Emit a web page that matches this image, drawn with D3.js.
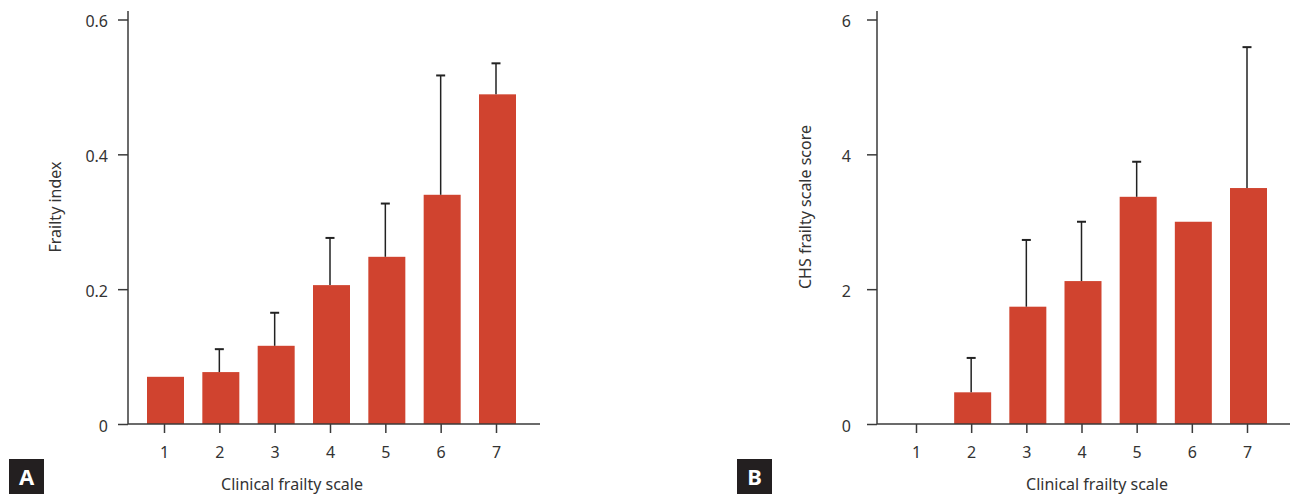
<!DOCTYPE html>
<html>
<head>
<meta charset="utf-8">
<script src="https://cdn.jsdelivr.net/npm/d3@7"></script>
<style>
  body { margin: 0; background: #fff; }
  svg text { font-family: "Noto Sans", "Open Sans", sans-serif; fill: #333; }
</style>
</head>
<body>
<div id="chart"></div>
<script>
// Clinical frailty scale categories
const categories = [1, 2, 3, 4, 5, 6, 7];

// Panel A: frailty index (mean, upper error)
const frailtyIndex = [0.070, 0.077, 0.116, 0.206, 0.248, 0.340, 0.489];
const frailtyIndexErr = [null, 0.111, 0.165, 0.276, 0.327, 0.517, 0.535];
const frailtyTicks = [0, 0.2, 0.4, 0.6];

// Panel B: CHS frailty scale score (mean, upper error)
const chsScore = [0, 0.47, 1.74, 2.12, 3.37, 3.0, 3.5];
const chsScoreErr = [null, 0.98, 2.73, 3.0, 3.89, null, 5.59];
const chsTicks = [0, 2, 4, 6];

const barColor = "#d0432f";
const axisColor = "#3a3a3a";

const svg = d3.select("#chart")
    .append("svg")
    .attr("width", 1290)
    .attr("height", 497);

function drawPanel(opts) {
    const g = svg.append("g");

    const x = d3.scalePoint()
        .domain(categories)
        .range([opts.x0, opts.x1]);

    const y = d3.scaleLinear()
        .domain([0, opts.yMax])
        .range([424, 19.5]);

    const barW = 37;

    // Bars
    g.append("g")
        .selectAll("rect")
        .data(categories.map((c, i) => ({ c, v: opts.values[i], e: opts.errors[i] })))
        .enter()
        .append("rect")
        .attr("x", d => x(d.c) - barW / 2 + 1.5)
        .attr("y", d => y(d.v))
        .attr("width", barW)
        .attr("height", d => y(0) - y(d.v))
        .attr("fill", barColor);

    // Error bars (upper only)
    const errs = categories
        .map((c, i) => ({ c, v: opts.values[i], e: opts.errors[i] }))
        .filter(d => d.e != null);

    g.append("g")
        .selectAll("line")
        .data(errs)
        .enter()
        .append("line")
        .attr("x1", d => x(d.c))
        .attr("x2", d => x(d.c))
        .attr("y1", d => y(d.v))
        .attr("y2", d => y(d.e))
        .attr("stroke", "#222")
        .attr("stroke-width", 1.5);

    g.append("g")
        .selectAll("line")
        .data(errs)
        .enter()
        .append("line")
        .attr("x1", d => x(d.c) - 4.5)
        .attr("x2", d => x(d.c) + 4.5)
        .attr("y1", d => y(d.e))
        .attr("y2", d => y(d.e))
        .attr("stroke", "#222")
        .attr("stroke-width", 2);

    // Y axis
    const yAxis = g.append("g")
        .attr("transform", `translate(${opts.axisX}, 0)`)
        .call(d3.axisLeft(y)
            .tickValues(opts.ticks)
            .tickFormat(opts.fmt)
            .tickSize(10)
            .tickPadding(opts.yPad));
    yAxis.select(".domain").remove();
    yAxis.selectAll(".tick line").attr("stroke", axisColor).attr("stroke-width", 1.5);
    yAxis.selectAll("text").style("font-size", "16px").attr("fill", "#333").attr("dy", "0.45em");

    g.append("line")
        .attr("x1", opts.axisX).attr("x2", opts.axisX)
        .attr("y1", 11).attr("y2", 424)
        .attr("stroke", axisColor).attr("stroke-width", 1.5);

    // X axis
    const xAxis = g.append("g")
        .attr("transform", "translate(0, 424)")
        .call(d3.axisBottom(x).tickSize(9).tickPadding(14));
    xAxis.select(".domain").remove();
    xAxis.selectAll(".tick line").attr("stroke", axisColor).attr("stroke-width", 1.5);
    xAxis.selectAll("text").style("font-size", "16px").attr("fill", "#333");

    g.append("line")
        .attr("x1", opts.axisX).attr("x2", opts.axisEnd)
        .attr("y1", 424).attr("y2", 424)
        .attr("stroke", axisColor).attr("stroke-width", 1.5);

    // Axis titles
    g.append("text")
        .attr("x", opts.xTitleX)
        .attr("y", 490)
        .attr("text-anchor", "middle")
        .style("font-size", "16px")
        .text("Clinical frailty scale");

    g.append("text")
        .attr("transform", `translate(${opts.yTitleX}, 207) rotate(-90)`)
        .attr("text-anchor", "middle")
        .style("font-size", "16px")
        .text(opts.yTitle);

    // Panel letter
    g.append("rect")
        .attr("x", opts.letterX)
        .attr("y", 459)
        .attr("width", 35)
        .attr("height", 35)
        .attr("fill", "#231f20");
    g.append("text")
        .attr("x", opts.letterX + 17.5)
        .attr("y", 485)
        .attr("text-anchor", "middle")
        .style("font-size", "22px")
        .style("font-weight", "bold")
        .style("fill", "#fff")
        .text(opts.letter);
}

drawPanel({
    x0: 164, x1: 496, axisX: 128, axisEnd: 540,
    yMax: 0.6, ticks: frailtyTicks, fmt: d => d === 0 ? "0" : d3.format(".1f")(d),
    yPad: 10,
    values: frailtyIndex, errors: frailtyIndexErr,
    xTitleX: 292, yTitleX: 61, yTitle: "Frailty index",
    letterX: 9, letter: "A"
});

drawPanel({
    x0: 916, x1: 1247, axisX: 877, axisEnd: 1290,
    yMax: 6, ticks: chsTicks, fmt: d3.format("d"),
    yPad: 16,
    values: chsScore, errors: chsScoreErr,
    xTitleX: 1097, yTitleX: 811, yTitle: "CHS frailty scale score",
    letterX: 737, letter: "B"
});
</script>
</body>
</html>
